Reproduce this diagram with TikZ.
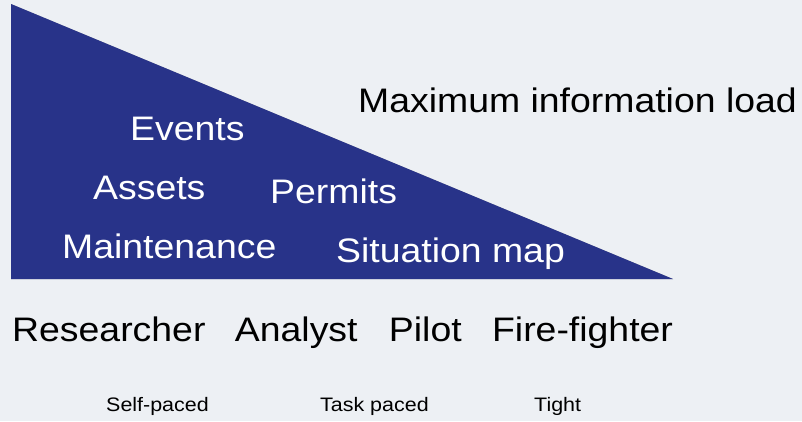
\documentclass[tikz,border=0pt]{standalone}
\usepackage{fontspec}
\setmainfont{Liberation Sans}[FakeStretch=1.1]
\usepackage{xcolor}
\usetikzlibrary{positioning}
\definecolor{triblue}{HTML}{283389}
\definecolor{slidebg}{HTML}{EDF0F4}
\tikzset{
  big/.style={inner sep=0pt, anchor=base west, font=\fontsize{34}{40}\selectfont},
  inside/.style={big, text=white},
  small/.style={inner sep=0pt, anchor=base west, font=\fontsize{19.5}{23}\selectfont},
}
\begin{document}
\begin{tikzpicture}[x=1pt, y=-1pt]

  % Background
  \fill[slidebg] (0,0) rectangle (802,421);
  \useasboundingbox (0,0) rectangle (802,421);

  % Triangle
  \coordinate (top) at (11,4);
  \coordinate (corner) at (11,279);
  \coordinate (tip) at (673,279);
  \fill[black!35, xshift=1.5pt, yshift=-1.5pt] (top) -- (corner) -- (tip) -- cycle;
  \fill[triblue] (top) -- (corner) -- (tip) -- cycle;

  % Nodes
  \node[inside] (events) at (130,140) {Events};
  \node[inside] (assets) at (93,199) {Assets};
  \node[inside] (permits) at (270,203) {Permits};
  \node[inside] (maint) at (62,258) {Maintenance};
  \node[inside] (sitmap) at (336,262) {Situation map};
  \node[big] (maxload) at (358,112) {Maximum information load};

  \node[big] (researcher) at (12,341) {Researcher};
  \node[big, right=29pt of researcher.base east, anchor=base west] (analyst) {Analyst};
  \node[big, right=31pt of analyst.base east, anchor=base west] (pilot) {Pilot};
  \node[big, right=30pt of pilot.base east, anchor=base west] (firefighter) {Fire-fighter};

  \node[small] (selfpaced) at (106,411) {Self-paced};
  \node[small] (taskpaced) at (320,411) {Task paced};
  \node[small] (tight) at (534,411) {Tight};
\end{tikzpicture}
\end{document}
